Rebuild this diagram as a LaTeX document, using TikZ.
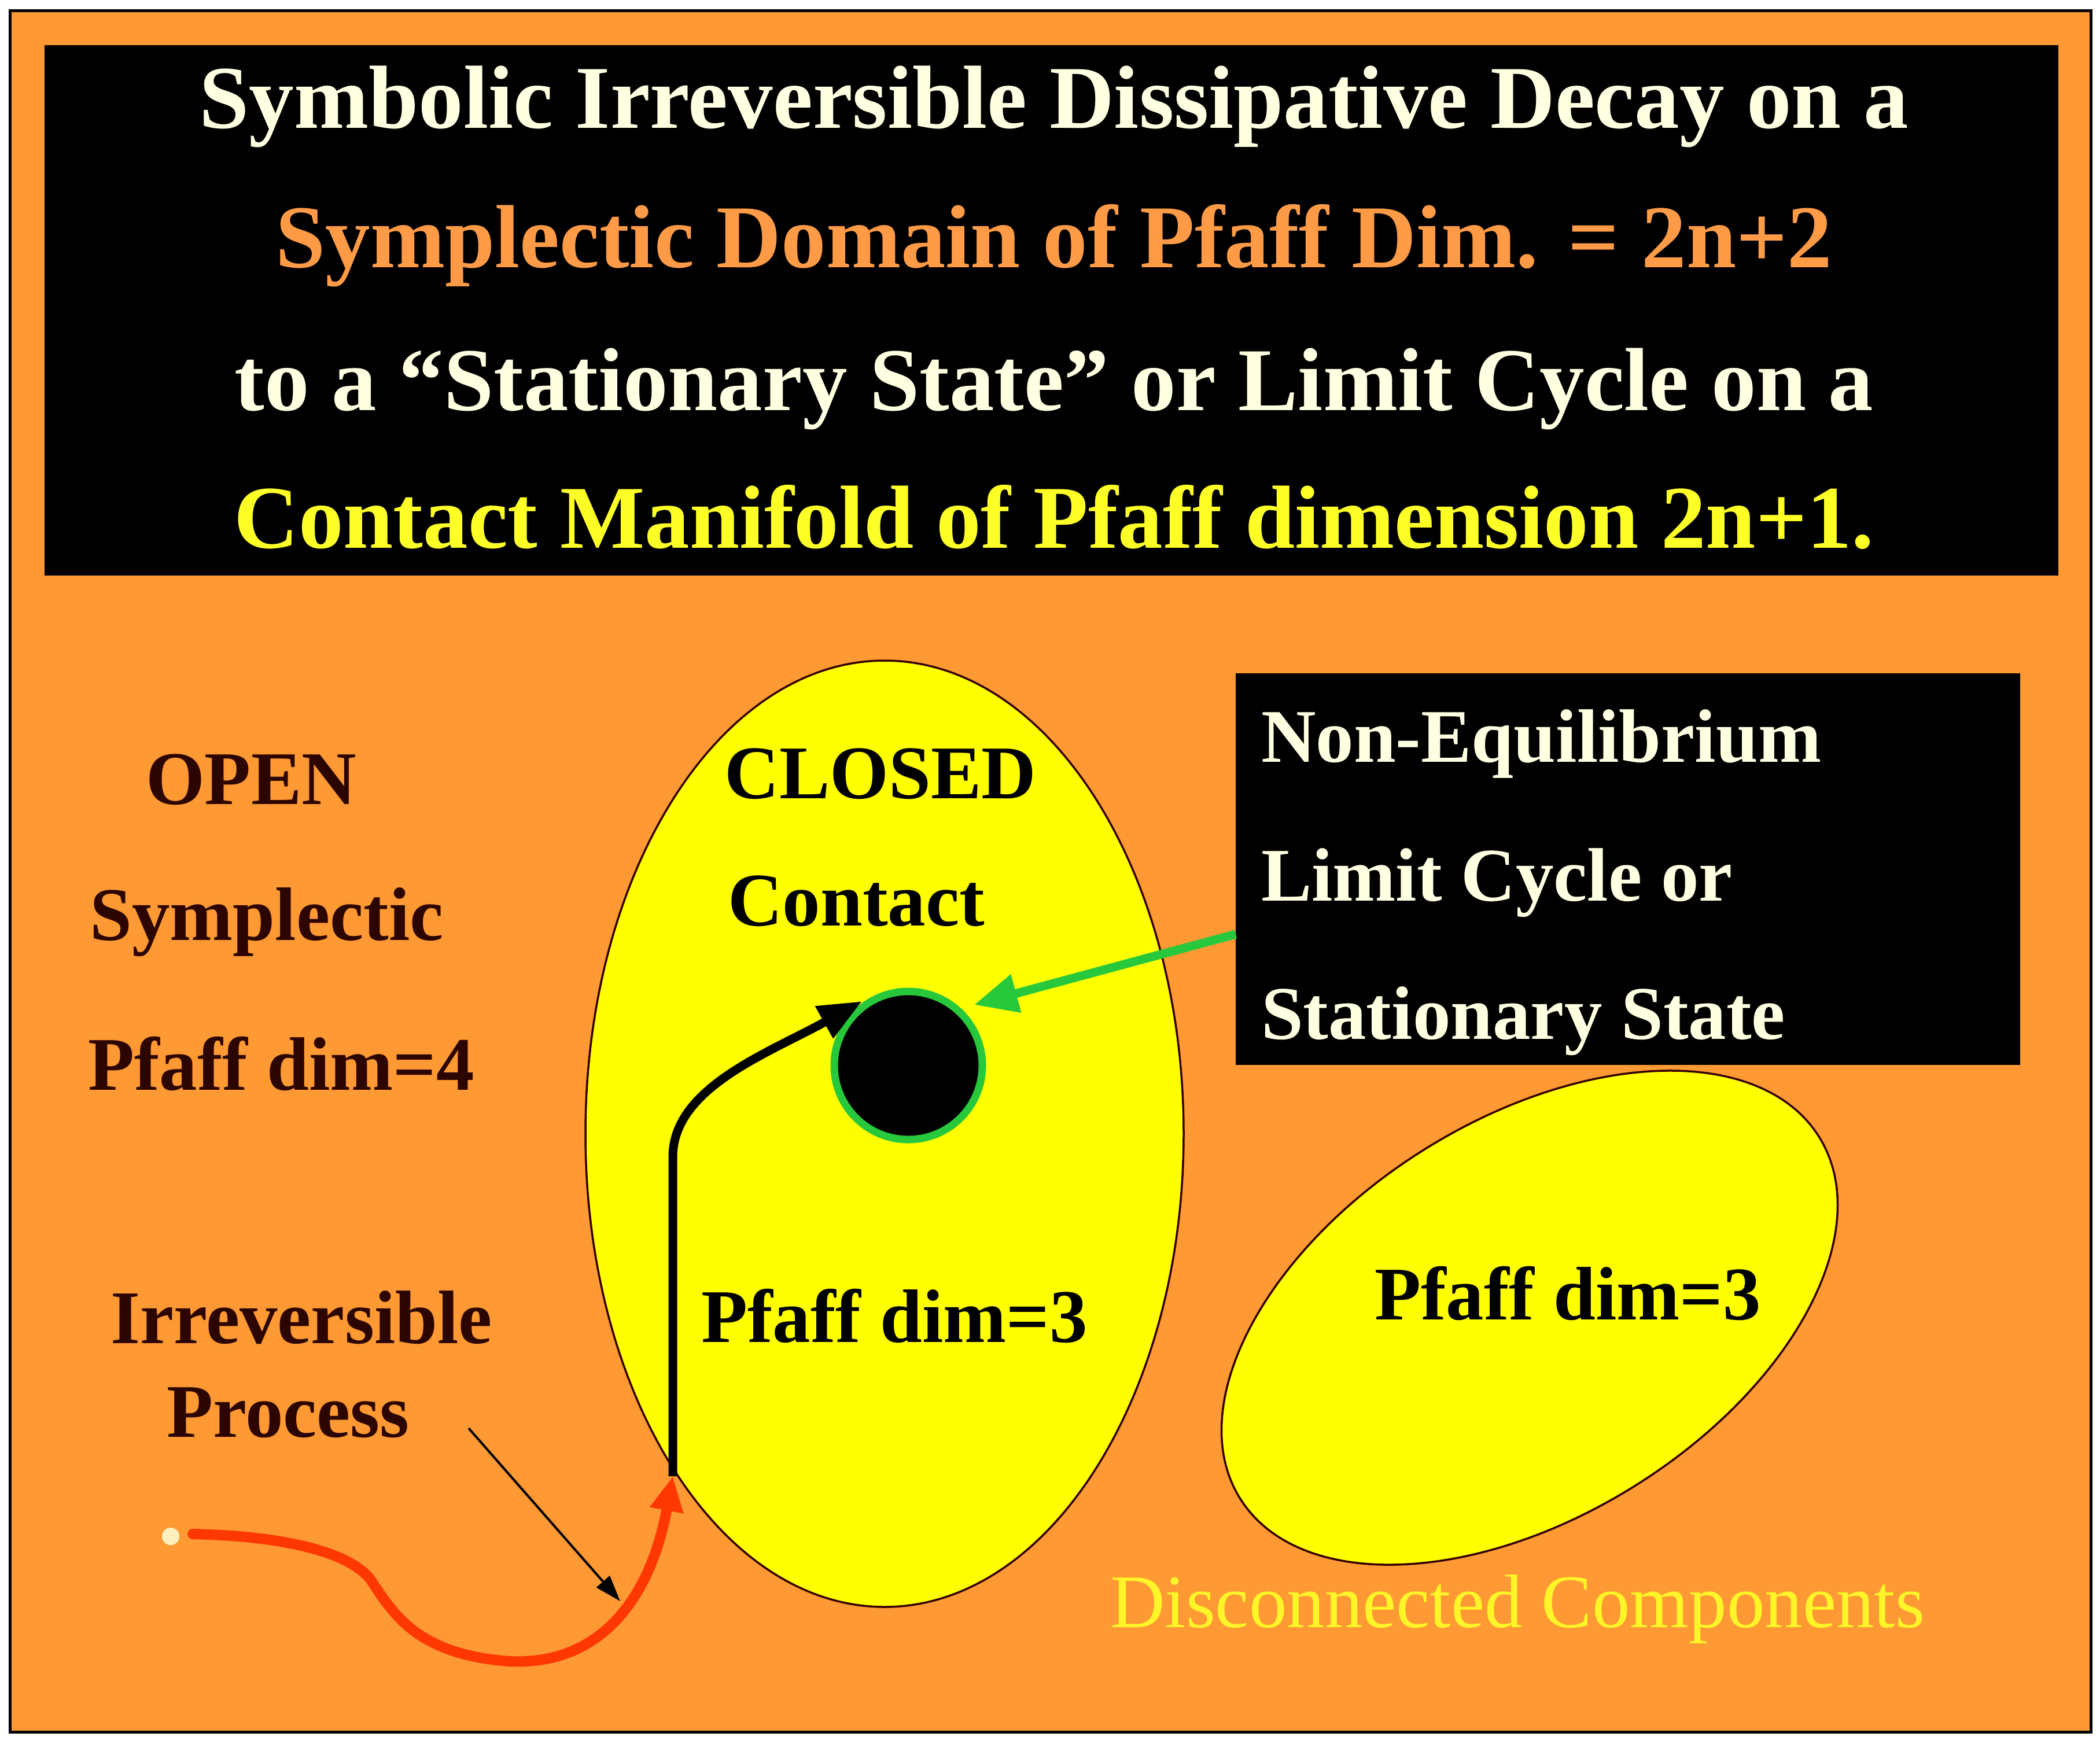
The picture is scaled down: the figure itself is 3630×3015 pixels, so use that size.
\documentclass[tikz,border=0pt]{standalone}
\usepackage{fontspec}
\setmainfont{Liberation Serif}
\usetikzlibrary{arrows.meta}
\definecolor{bgorange}{RGB}{255,153,51}
\definecolor{cream}{RGB}{255,255,225}
\definecolor{titleorange}{RGB}{255,155,70}
\definecolor{titleyellow}{RGB}{255,255,40}
\definecolor{darkbrown}{RGB}{45,5,0}
\definecolor{limegreen}{RGB}{40,200,60}
\definecolor{redline}{RGB}{255,55,0}
\definecolor{dotcream}{RGB}{255,240,190}
\definecolor{discyellow}{RGB}{255,245,40}
\definecolor{fillyellow}{RGB}{255,255,0}
\begin{document}
\begin{tikzpicture}[x=0.2pt,y=0.2pt,
  txt/.style={inner sep=0pt, anchor=base, font=\fontsize{26.2}{30}\selectfont\bfseries},
  ttl/.style={inner sep=0pt, anchor=base, font=\fontsize{31}{36}\selectfont\bfseries},
  region/.style={fill=fillyellow, draw=black!80!red, line width=0.7pt},
]
\useasboundingbox (0,0) rectangle (3630,-3015);
\fill[white] (0,0) rectangle (3630,-3015);
\filldraw[fill=bgorange, draw=black, line width=1pt] (17,-18) rectangle (3614,-2994);

% title
\node[fill=black, minimum width=696.2pt, minimum height=183.4pt, inner sep=0pt] (titlebox) at (1817.5,-536.5) {};
\node[ttl, text=cream] (t1) at (1822,-221) {Symbolic Irreversible Dissipative Decay on a};
\node[ttl, text=titleorange] (t2) at (1822,-462) {Symplectic Domain of Pfaff Dim. = 2n+2};
\node[ttl, text=cream] (t3) at (1822,-709) {to a “Stationary State” or Limit Cycle on a};
\node[ttl, text=titleyellow] (t4) at (1822,-947) {Contact Manifold of Pfaff dimension 2n+1.};

% regions
\draw[region] (1529,-1960) ellipse [x radius=517, y radius=818];
\draw[region, rotate around={32:(2644,-2278)}] (2644,-2278) ellipse [x radius=590, y radius=343];

% limit cycle
\node[circle, fill=black, draw=limegreen, line width=2.6pt, minimum size=51.2pt, inner sep=0pt] (lc) at (1570,-1842) {};

% info box
\node[fill=black, minimum width=271.2pt, minimum height=135.4pt, inner sep=0pt] (neq) at (2814,-1502.5) {};
\node[txt, anchor=base west, text=cream] (n1) at (2179,-1317) {Non-Equilibrium};
\node[txt, anchor=base west, text=cream] (n2) at (2179,-1557) {Limit Cycle or};
\node[txt, anchor=base west, text=cream] (n3) at (2179,-1796) {Stationary State};

% left texts
\node[txt, text=darkbrown] (open) at (434,-1390) {OPEN};
\node[txt, text=darkbrown] (sym) at (461,-1625) {Symplectic};
\node[txt, text=darkbrown] (pd4) at (486,-1884) {Pfaff dim=4};
\node[txt, text=darkbrown] (irr) at (521,-2322) {Irreversible};
\node[txt, text=darkbrown] (proc) at (498,-2484) {Process};

% ellipse texts
\node[txt, text=black] (closed) at (1522,-1380) {CLOSED};
\node[txt, text=black] (contact) at (1480,-1600) {Contact};
\node[txt, text=black] (pd3a) at (1546,-2320) {Pfaff dim=3};
\node[txt, text=black] (pd3b) at (2710,-2281) {Pfaff dim=3};
\node[inner sep=0pt, anchor=base, font=\fontsize{26.2}{30}\selectfont, text=discyellow] (disc) at (2623,-2813) {Disconnected Components};

% connectors
\coordinate (bstart) at (1163,-2552);
\coordinate (btip) at (1490,-1731);
\coordinate (rstart) at (333,-2652);
\coordinate (tstart) at (810,-2469);
\coordinate (ttip) at (1072,-2768);
\coordinate (gstart) at (2136,-1615);
\coordinate (gtip) at (1684,-1737);

\node[circle, fill=dotcream, inner sep=0pt, minimum size=6pt] (rdot) at (295,-2656) {};

\draw[line width=3pt, -{Triangle[length=15pt,width=12pt]}]
  (bstart) -- (1163,-2000) .. controls (1163,-1880) and (1330,-1820) .. (btip);
\draw[redline, line width=3.6pt, line cap=round, -{Triangle[length=12pt,width=11pt]}]
  (rstart) .. controls (480,-2655) and (600,-2680) .. (640,-2730)
  .. controls (680,-2790) and (720,-2860) .. (880,-2872)
  .. controls (1040,-2880) and (1125,-2760) .. (bstart);
\draw[line width=0.8pt, -{Triangle[length=9pt,width=6pt]}] (tstart) -- (ttip);
\draw[limegreen, line width=3pt, -{Triangle[length=15pt,width=13pt]}] (gstart) -- (gtip);
\end{tikzpicture}
\end{document}
